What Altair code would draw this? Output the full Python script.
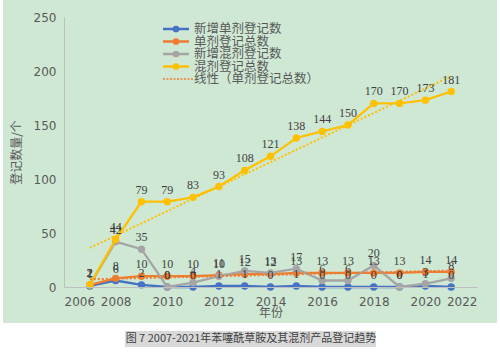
import altair as alt
import pandas as pd

years = list(range(2007, 2022))
new_single = [1, 6, 2, 0, 0, 1, 1, 0, 1, 0, 0, 0, 0, 1, 0]
single_total = [2, 8, 10, 10, 10, 11, 12, 12, 13, 13, 13, 13, 13, 14, 14]
new_mixed = [2, 42, 35, 0, 4, 10, 15, 13, 17, 6, 6, 20, 0, 3, 8]
mixed_total = [2, 44, 79, 79, 83, 93, 108, 121, 138, 144, 150, 170, 170, 173, 181]

series_names = ["新增单剂登记数", "单剂登记总数", "新增混剂登记数", "混剂登记总数"]
series_values = [new_single, single_total, new_mixed, mixed_total]
series_colors = ["#4472c4", "#ed7d31", "#a5a5a5", "#ffc000"]
trend_label = "线性（单剂登记总数）"
caption = "图 7  2007-2021年苯噻酰草胺及其混剂产品登记趋势"

rows = []
for name, vals in zip(series_names, series_values):
    for y, v in zip(years, vals):
        rows.append({"year": y, "series": name, "value": v})
df = pd.DataFrame(rows)

W, H = 413, 270
xscale = alt.Scale(domain=[2006, 2022], nice=False)
yscale = alt.Scale(domain=[0, 250], nice=False)

one = pd.DataFrame({"a": [0]})
# white strips around the green panel (page background is green)
white_bottom = alt.Chart(one).mark_rect(color="#ffffff").encode(
    x=alt.value(-70), x2=alt.value(440), y=alt.value(306), y2=alt.value(345)
)
white_left = alt.Chart(one).mark_rect(color="#ffffff").encode(
    x=alt.value(-70), x2=alt.value(-61), y=alt.value(-20), y2=alt.value(345)
)
white_right = alt.Chart(one).mark_rect(color="#ffffff").encode(
    x=alt.value(433), x2=alt.value(440), y=alt.value(-20), y2=alt.value(345)
)
cap_box = alt.Chart(one).mark_rect(color="#d9d9d9").encode(
    x=alt.value(61), x2=alt.value(312), y=alt.value(314), y2=alt.value(330)
)
cap_text = alt.Chart(one).mark_text(
    text=caption, font="Noto Sans CJK SC", fontSize=11, color="#404040",
    align="center", baseline="middle"
).encode(x=alt.value(187), y=alt.value(322))

layers = []
for i, (name, color) in enumerate(zip(series_names, series_colors)):
    base = alt.Chart(df).transform_filter(alt.datum.series == name)
    enc_x = alt.X("year:Q", scale=xscale,
                  axis=alt.Axis(title="年份", values=list(range(2006, 2023, 2)), format="d", zindex=1))
    enc_y = alt.Y("value:Q", scale=yscale,
                  axis=alt.Axis(title="登记数量/个", values=[0, 50, 100, 150, 200, 250], zindex=1))
    layers.append(base.mark_line(color=color, strokeWidth=2.3).encode(x=enc_x, y=enc_y))
    layers.append(base.mark_circle(color=color, size=55, opacity=1).encode(x=enc_x, y=enc_y))

# trend lines (linear regression)
for name, color in [("单剂登记总数", "#ed7d31"), ("混剂登记总数", "#ffc000")]:
    layers.append(
        alt.Chart(df).transform_filter(alt.datum.series == name)
        .transform_regression("year", "value")
        .mark_line(color=color, strokeDash=[2, 2], strokeWidth=2)
        .encode(x=alt.X("year:Q", scale=xscale), y=alt.Y("value:Q", scale=yscale))
    )

labels = alt.Chart(df).mark_text(
    font="Liberation Serif", fontSize=12, color="#404040", dy=-12, baseline="middle"
).encode(x=alt.X("year:Q", scale=xscale), y=alt.Y("value:Q", scale=yscale),
         text=alt.Text("value:Q"))
layers.append(labels)

main = alt.layer(*layers)

# manual legend
leg_names = series_names + [trend_label]
leg_colors = series_colors + ["#ed7d31"]
leg_df = pd.DataFrame({"name": leg_names, "color": leg_colors, "idx": list(range(5))})
ly = alt.Y("idx:O", scale=alt.Scale(type="point", range=[12, 62], padding=0), axis=None)
leg_base = alt.Chart(leg_df)
leg_lines = leg_base.transform_filter(alt.datum.idx < 4).mark_rule(strokeWidth=2.5).encode(
    x=alt.value(99), x2=alt.value(125), y=ly, color=alt.Color("color:N", scale=None)
)
leg_pts = leg_base.transform_filter(alt.datum.idx < 4).mark_circle(size=45, opacity=1).encode(
    x=alt.value(112), y=ly, color=alt.Color("color:N", scale=None)
)
leg_dot = leg_base.transform_filter(alt.datum.idx == 4).mark_rule(
    strokeWidth=1.5, strokeDash=[2, 1.5]).encode(
    x=alt.value(99), x2=alt.value(129), y=ly, color=alt.Color("color:N", scale=None)
)
leg_txt = leg_base.mark_text(
    font="Noto Sans CJK SC", fontSize=12.5, color="#595959", align="left", baseline="middle"
).encode(x=alt.value(130), y=ly, text="name:N")
legend = alt.layer(leg_lines, leg_pts, leg_dot, leg_txt)

chart = alt.layer(main, white_bottom, white_left, white_right, cap_box, cap_text, legend
                  ).resolve_scale(y="independent").properties(
    width=W, height=H,
    autosize=alt.AutoSizeParams(type="none"),
    padding={"left": 64, "top": 17, "right": 23, "bottom": 67},
    background="#cfe8d4",
).configure_view(stroke=None).configure_axis(
    grid=False, ticks=False, domainColor="#bfbfbf", domainWidth=1,
    labelColor="#595959", labelFontSize=12, labelFont="DejaVu Sans",
    titleColor="#595959", titleFontSize=12, titleFont="Noto Sans CJK SC", titleFontWeight="normal",
).configure_axisX(labelPadding=9, titlePadding=0).configure_axisY(labelPadding=8, titlePadding=10)

chart.save("out.html", embed_options={"renderer": "svg", "actions": False})
